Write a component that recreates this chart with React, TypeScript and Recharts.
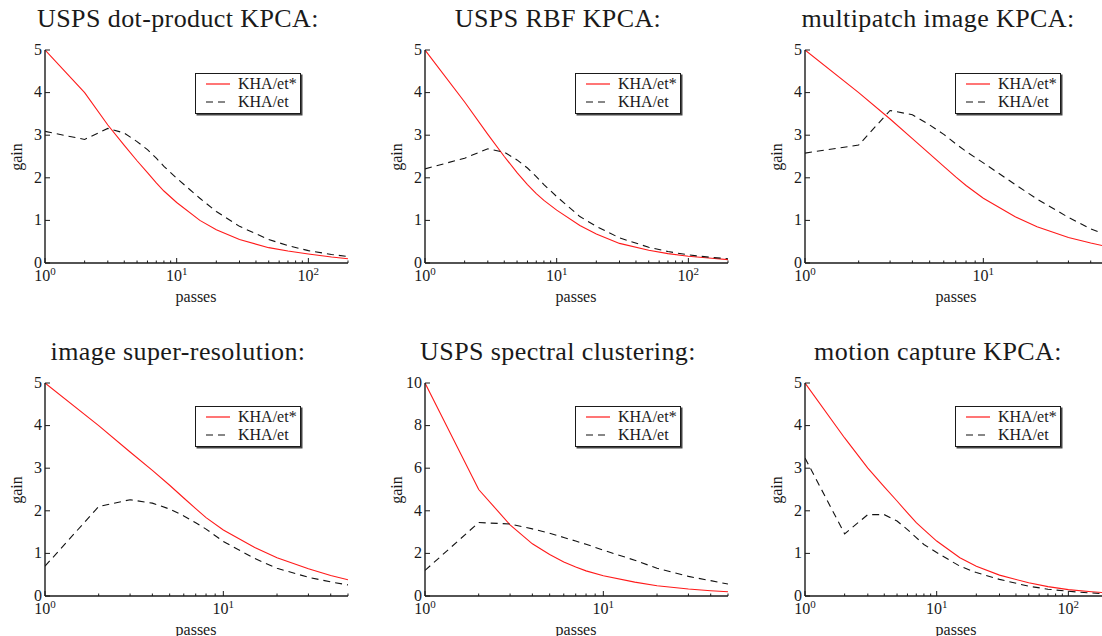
import { LineChart, Line, XAxis, YAxis, Legend } from "recharts";

const FONT = '"Liberation Serif", "DejaVu Serif", serif';
const INK = "#1a1a1a";

const seriesNames = ["KHA/et*", "KHA/et"];

const titles = [
  "USPS dot-product KPCA:",
  "USPS RBF KPCA:",
  "multipatch image KPCA:",
  "image super-resolution:",
  "USPS spectral clustering:",
  "motion capture KPCA:",
];

// x positions (passes)
const passesLong = [1, 2, 3, 4, 5, 6, 7, 8, 10, 15, 20, 30, 50, 70, 100, 150, 200];
const passesShort = [1, 2, 3, 4, 5, 6, 7, 8, 10, 15, 20, 30, 40, 50];

const ticksLong = [1, 2, 3, 4, 5, 6, 7, 8, 9, 10, 20, 30, 40, 50, 60, 70, 80, 90, 100, 200];
const ticksShort = [1, 2, 3, 4, 5, 6, 7, 8, 9, 10, 20, 30, 40, 50];
const gainTicks5 = [0, 1, 2, 3, 4, 5];
const gainTicks10 = [0, 2, 4, 6, 8, 10];

// gain per panel
const dotStar = [5, 4.0, 3.24, 2.76, 2.4, 2.12, 1.88, 1.69, 1.42, 1.0, 0.78, 0.55, 0.36, 0.28, 0.21, 0.14, 0.1];
const dotEt = [3.09, 2.9, 3.16, 3.05, 2.85, 2.66, 2.46, 2.27, 1.99, 1.52, 1.21, 0.86, 0.55, 0.41, 0.29, 0.2, 0.15];

const rbfStar = [5, 3.78, 3.02, 2.5, 2.12, 1.84, 1.63, 1.47, 1.24, 0.88, 0.68, 0.46, 0.3, 0.22, 0.16, 0.11, 0.08];
const rbfEt = [2.21, 2.46, 2.68, 2.6, 2.42, 2.23, 2.03, 1.84, 1.56, 1.09, 0.86, 0.59, 0.37, 0.27, 0.19, 0.13, 0.1];

const patchStar = [5, 4.0, 3.38, 2.92, 2.56, 2.27, 2.02, 1.82, 1.52, 1.09, 0.85, 0.6, 0.47, 0.38];
const patchEt = [2.58, 2.77, 3.58, 3.48, 3.24, 3.02, 2.8, 2.62, 2.35, 1.85, 1.5, 1.07, 0.8, 0.65];

const superStar = [5, 4.0, 3.38, 2.95, 2.6, 2.3, 2.05, 1.84, 1.55, 1.14, 0.9, 0.64, 0.48, 0.38];
const superEt = [0.7, 2.1, 2.26, 2.18, 2.04, 1.88, 1.72, 1.57, 1.28, 0.88, 0.65, 0.44, 0.33, 0.26];

const specStar = [10, 5.0, 3.34, 2.45, 1.95, 1.6, 1.36, 1.18, 0.95, 0.65, 0.48, 0.33, 0.25, 0.2];
const specEt = [1.2, 3.45, 3.38, 3.15, 2.95, 2.75, 2.58, 2.43, 2.15, 1.68, 1.3, 0.92, 0.72, 0.56];

const mocapStar = [5, 3.71, 3.0, 2.56, 2.23, 1.95, 1.72, 1.56, 1.29, 0.9, 0.7, 0.49, 0.31, 0.22, 0.15, 0.1, 0.07];
const mocapEt = [3.24, 1.46, 1.91, 1.91, 1.76, 1.56, 1.37, 1.21, 1.02, 0.7, 0.55, 0.39, 0.23, 0.16, 0.11, 0.07, 0.05];

type PanelSpec = {
  title: string;
  passes: number[];
  star: number[];
  et: number[];
  xMax: number;
  xTicks: number[];
  yMax: number;
  yTicks: number[];
  left: number;
  top: number;
};

const panels: PanelSpec[] = [
  { title: titles[0], passes: passesLong, star: dotStar, et: dotEt, xMax: 200, xTicks: ticksLong, yMax: 5, yTicks: gainTicks5, left: 0, top: 0 },
  { title: titles[1], passes: passesLong, star: rbfStar, et: rbfEt, xMax: 200, xTicks: ticksLong, yMax: 5, yTicks: gainTicks5, left: 380, top: 0 },
  { title: titles[2], passes: passesShort, star: patchStar, et: patchEt, xMax: 50, xTicks: ticksShort, yMax: 5, yTicks: gainTicks5, left: 760, top: 0 },
  { title: titles[3], passes: passesShort, star: superStar, et: superEt, xMax: 50, xTicks: ticksShort, yMax: 5, yTicks: gainTicks5, left: 0, top: 333 },
  { title: titles[4], passes: passesShort, star: specStar, et: specEt, xMax: 50, xTicks: ticksShort, yMax: 10, yTicks: gainTicks10, left: 380, top: 333 },
  { title: titles[5], passes: passesLong, star: mocapStar, et: mocapEt, xMax: 200, xTicks: ticksLong, yMax: 5, yTicks: gainTicks5, left: 760, top: 333 },
];

const isDecade = (v: number) => Math.abs(Math.log10(v) - Math.round(Math.log10(v))) < 1e-9;

function BottomTick(props: any) {
  const { x, y, payload } = props;
  const v = payload.value;
  const major = isDecade(v);
  return (
    <g>
      <line x1={x} x2={x} y1={y} y2={y - (major ? 5 : 2.5)} stroke={INK} strokeWidth={1} />
      {major && (
        <text x={x} y={y + 18} textAnchor="middle" fontSize={16} fontFamily={FONT} fill={INK}>
          <tspan>10</tspan>
          <tspan dy={-6} fontSize={11}>{Math.round(Math.log10(v))}</tspan>
        </text>
      )}
    </g>
  );
}

function TopTick(props: any) {
  const { x, y, payload } = props;
  const major = isDecade(payload.value);
  return <line x1={x} x2={x} y1={y} y2={y + (major ? 5 : 2.5)} stroke={INK} strokeWidth={1} />;
}

function LeftTick(props: any) {
  const { x, y, payload } = props;
  return (
    <g>
      <line x1={x} x2={x + 5} y1={y} y2={y} stroke={INK} strokeWidth={1} />
      <text x={x - 3} y={y} dy="0.3em" textAnchor="end" fontSize={16} fontFamily={FONT} fill={INK}>
        {payload.value}
      </text>
    </g>
  );
}

function RightTick(props: any) {
  const { x, y } = props;
  return <line x1={x} x2={x - 5} y1={y} y2={y} stroke={INK} strokeWidth={1} />;
}

function LegendBox(props: any) {
  const items = props.payload || [];
  return (
    <div
      style={{
        width: 106,
        height: 41,
        border: `1.5px solid ${INK}`,
        boxShadow: `1.5px 1.5px 0 #444`,
        background: "#fff",
        fontFamily: FONT,
        fontSize: 16,
        color: INK,
        boxSizing: "border-box",
        paddingTop: 1,
      }}
    >
      {items.map((it: any) => (
        <div key={it.value} style={{ display: "flex", alignItems: "center", height: 18 }}>
          <svg width={42} height={10} style={{ flex: "none" }}>
            <line
              x1={10}
              x2={34}
              y1={5}
              y2={5}
              stroke={it.color}
              strokeWidth={1.2}
              strokeDasharray={it.payload && it.payload.strokeDasharray}
            />
          </svg>
          <span style={{ lineHeight: "18px" }}>{it.value}</span>
        </div>
      ))}
    </div>
  );
}

const axisLine = { stroke: INK, strokeWidth: 1.4 };

function Panel({ p }: { p: PanelSpec }) {
  const data = p.passes.map((x, i) => ({ passes: x, star: p.star[i], et: p.et[i] }));
  return (
    <div style={{ position: "absolute", left: p.left, top: p.top, width: 360, height: 330 }}>
      <div
        style={{
          position: "absolute",
          left: 178,
          top: 19,
          transform: "translate(-50%, -50%)",
          whiteSpace: "nowrap",
          fontFamily: FONT,
          fontSize: 26,
          letterSpacing: 0.4,
          color: INK,
        }}
      >
        {p.title}
      </div>
      <div style={{ position: "absolute", top: 0, left: 0 }}>
        <LineChart width={360} height={330} data={data} margin={{ top: 50, right: 12, bottom: 37, left: 0 }}>
          <XAxis
            xAxisId="b"
            dataKey="passes"
            type="number"
            scale="log"
            domain={[1, p.xMax]}
            allowDataOverflow
            ticks={p.xTicks}
            interval={0}
            tickSize={0}
            tickMargin={0}
            tickLine={false}
            axisLine={axisLine}
            tick={(t: any) => <BottomTick {...t} />}
            height={30}
          />
          <XAxis
            xAxisId="t"
            orientation="top"
            dataKey="passes"
            type="number"
            scale="log"
            domain={[1, p.xMax]}
            allowDataOverflow
            ticks={p.xTicks}
            interval={0}
            tickSize={0}
            tickMargin={0}
            tickLine={false}
            axisLine={axisLine}
            tick={(t: any) => <TopTick {...t} />}
            height={0}
          />
          <YAxis
            yAxisId="l"
            type="number"
            domain={[0, p.yMax]}
            allowDataOverflow
            ticks={p.yTicks}
            interval={0}
            tickSize={0}
            tickMargin={0}
            tickLine={false}
            axisLine={axisLine}
            tick={(t: any) => <LeftTick {...t} />}
            width={45}
          />
          <YAxis
            yAxisId="r"
            orientation="right"
            type="number"
            domain={[0, p.yMax]}
            allowDataOverflow
            ticks={p.yTicks}
            interval={0}
            tickSize={0}
            tickMargin={0}
            tickLine={false}
            axisLine={axisLine}
            tick={(t: any) => <RightTick {...t} />}
            width={0}
          />
          <Legend
            layout="horizontal"
            verticalAlign="middle"
            align="center"
            itemSorter={(it: any) => seriesNames.indexOf(it.value)}
            content={(lp: any) => <LegendBox {...lp} />}
            wrapperStyle={{ position: "absolute", left: 195, top: 73, width: "auto", height: "auto" }}
          />
          <Line
            xAxisId="b"
            yAxisId="l"
            type="linear"
            dataKey="star"
            name={seriesNames[0]}
            stroke="#ff1a1a"
            strokeWidth={1.1}
            dot={false}
            isAnimationActive={false}
          />
          <Line
            xAxisId="b"
            yAxisId="l"
            type="linear"
            dataKey="et"
            name={seriesNames[1]}
            stroke="#111"
            strokeWidth={1.1}
            strokeDasharray="7 5"
            dot={false}
            isAnimationActive={false}
          />
        </LineChart>
      </div>
      <div
        style={{
          position: "absolute",
          left: 196,
          top: 297,
          transform: "translate(-50%, -50%)",
          fontFamily: FONT,
          fontSize: 16,
          color: INK,
        }}
      >
        passes
      </div>
      <div
        style={{
          position: "absolute",
          left: 17,
          top: 157,
          transform: "translate(-50%, -50%) rotate(-90deg)",
          fontFamily: FONT,
          fontSize: 16,
          color: INK,
        }}
      >
        gain
      </div>
    </div>
  );
}

export default function App() {
  return (
    <div
      style={{
        position: "absolute",
        left: 0,
        top: 0,
        width: 1102,
        height: 636,
        overflow: "hidden",
        background: "#fff",
      }}
    >
      {panels.map((p) => (
        <Panel key={p.title} p={p} />
      ))}
    </div>
  );
}
